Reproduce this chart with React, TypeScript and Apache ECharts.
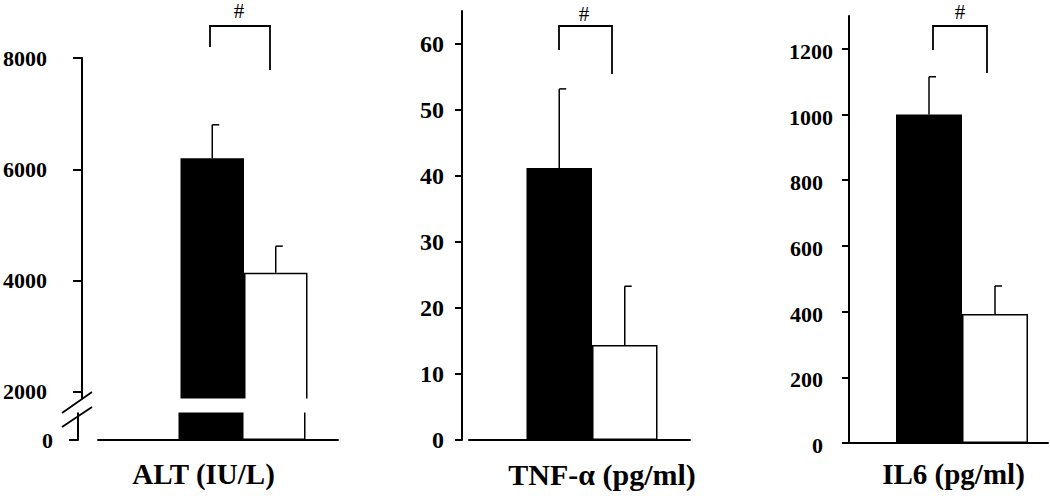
import React, { useEffect, useRef } from 'react';
import * as echarts from 'echarts';

// ---------- data ----------
const panelTitles = ['ALT (IU/L)', 'TNF-α (pg/ml)', 'IL6 (pg/ml)'];
const groupNames = ['Group 1', 'Group 2'];
const altMean = [6200, 4140];
const altUpper = [6800, 4620];
const tnfMean = [41.2, 14.4];
const tnfUpper = [53.2, 23.3];
const il6Mean = [1000, 393];
const il6Upper = [1115, 478];
const altTicksUpper = [2000, 4000, 6000, 8000];
const altTicksLower = [0];
const tnfTicks = [0, 10, 20, 30, 40, 50, 60];
const il6Ticks = [0, 200, 400, 600, 800, 1000, 1200];
const sigMark = '#';

// ---------- layout / style ----------
const FONT = "'Liberation Serif', 'Times New Roman', serif";
const CAP = 7;
const panels = [
  { left: 98, width: 240, barW: 63.5, spacer: 48 },
  { left: 469, width: 221, barW: 65.5, spacer: 25 },
  { left: 849, width: 199, barW: 66, spacer: 27 },
];

function barSeries(p: number, xi: number, mean: number[]) {
  const c = panels[p];
  return [
    {
      type: 'bar', xAxisIndex: xi, yAxisIndex: xi, data: [null], barWidth: c.spacer,
      barGap: '0%', silent: true, itemStyle: { color: 'rgba(0,0,0,0)' },
    },
    {
      type: 'bar', name: groupNames[0], xAxisIndex: xi, yAxisIndex: xi, data: [mean[0]],
      barWidth: c.barW, barGap: '0%', itemStyle: { color: '#000' },
    },
    {
      type: 'bar', name: groupNames[1], xAxisIndex: xi, yAxisIndex: xi, data: [mean[1]],
      barWidth: c.barW, barGap: '0%',
      itemStyle: { color: '#fff', borderColor: '#000', borderWidth: 1.5 },
    },
  ];
}

function errSeries(p: number, xi: number, mean: number[], upper: number[]) {
  const c = panels[p];
  return {
    type: 'custom', xAxisIndex: xi, yAxisIndex: xi, z: 5, clip: false,
    data: mean.map((m, i) => [0, m, upper[i]]),
    renderItem: (params: any, api: any) => {
      const lo = api.coord([api.value(0), api.value(1)]);
      const hi = api.coord([api.value(0), api.value(2)]);
      const off = params.dataIndex === 0 ? c.spacer / 2 - c.barW / 2 : c.spacer / 2 + c.barW / 2;
      const x = lo[0] + off;
      return {
        type: 'group',
        children: [
          { type: 'line', shape: { x1: x, y1: lo[1], x2: x, y2: hi[1] }, style: { stroke: '#000', lineWidth: 1.5 } },
          { type: 'line', shape: { x1: x, y1: hi[1], x2: x + CAP, y2: hi[1] }, style: { stroke: '#000', lineWidth: 1.5 } },
        ],
      };
    },
  };
}

function xAxis(grid: number, p: number, show: boolean) {
  return {
    type: 'category', gridIndex: grid, data: [panelTitles[p]],
    axisLine: { show, onZero: false, lineStyle: { color: '#000', width: 2 } },
    axisTick: { show: false }, axisLabel: { show: false }, splitLine: { show: false },
  };
}

function labelBase(size: number) {
  return { color: '#000', fontFamily: FONT, fontWeight: 'bold', fontSize: size };
}

function yAxis(grid: number, min: number, max: number, ticks: number[], offset: number, tickLen: number, margin: number, size: number, extra: any = {}) {
  return {
    type: 'value', gridIndex: grid, min, max, offset,
    axisLine: { show: true, lineStyle: { color: '#000', width: 2 } },
    axisTick: { show: true, customValues: ticks, length: tickLen, lineStyle: { color: '#000', width: 2 } },
    axisLabel: {
      show: true, customValues: ticks, margin, padding: [5, 0, 0, 0],
      formatter: (v: number) => String(v),
      ...labelBase(size), ...extra,
    },
    splitLine: { show: false },
  };
}

function bracket(x1: number, x2: number, y: number, yl: number, yr: number, hx: number, hy: number) {
  return [
    {
      type: 'polyline', z: 100,
      shape: { points: [[x1, yl], [x1, y], [x2, y], [x2, yr]] },
      style: { stroke: '#000', lineWidth: 1.8, fill: null },
    },
    {
      type: 'text', z: 100, x: hx, y: hy,
      style: {
        text: sigMark, fontFamily: FONT, fontSize: 21, fill: '#000',
        align: 'center', verticalAlign: 'middle', textAlign: 'center', textVerticalAlign: 'middle',
      },
    },
  ];
}

function titleText(text: string, x: number, y: number, size: number) {
  return {
    type: 'text', z: 100, x, y,
    style: {
      text, fontFamily: FONT, fontSize: size, fontWeight: 'bold', fill: '#000',
      align: 'center', verticalAlign: 'middle', textAlign: 'center', textVerticalAlign: 'middle',
    },
  };
}

export default function App() {
  const ref = useRef<HTMLDivElement>(null);
  useEffect(() => {
    if (!ref.current) return;
    const chart = echarts.init(ref.current, undefined, { renderer: 'svg' });
    const option: any = {
      animation: false,
      backgroundColor: '#fff',
      grid: [
        { left: 98, width: 240, top: 58, height: 347.9 },
        { left: 98, width: 240, top: 406.6, height: 33.4 },
        { left: 469, width: 221, top: 11, height: 429 },
        { left: 849, width: 199, top: 16, height: 427 },
      ],
      xAxis: [xAxis(0, 0, false), xAxis(1, 0, true), xAxis(2, 1, true), xAxis(3, 2, true)],
      yAxis: [
        yAxis(0, 1750, 8000, altTicksUpper, 20, 9, 35, 22),
        yAxis(1, 0, 600, altTicksLower, 20, 9, 25, 22),
        yAxis(2, 0, 65, tnfTicks, 7, 7, 18, 24),
        yAxis(3, 0, 1300, il6Ticks, 0, 7, 16, 22, {
          formatter: (v: number) => (v >= 1000 ? `{b|${v}}` : `{a|${v}}`),
          padding: 0,
          rich: {
            a: { ...labelBase(22), padding: [5, 10, 0, 0] },
            b: { ...labelBase(22), padding: [5, 0, 0, 0] },
          },
        }),
      ],
      series: [
        ...barSeries(0, 0, altMean),
        ...barSeries(0, 1, altMean),
        errSeries(0, 0, altMean, altUpper),
        ...barSeries(1, 2, tnfMean),
        errSeries(1, 2, tnfMean, tnfUpper),
        ...barSeries(2, 3, il6Mean),
        errSeries(2, 3, il6Mean, il6Upper),
      ],
      graphic: [
        // axis break cover and slashes
        { type: 'rect', z: 100, shape: { x: 66, y: 398.5, width: 248, height: 14 }, style: { fill: '#fff' } },
        { type: 'line', z: 101, shape: { x1: 62, y1: 413, x2: 92, y2: 392 }, style: { stroke: '#000', lineWidth: 1.8 } },
        { type: 'line', z: 101, shape: { x1: 62, y1: 427, x2: 92, y2: 407 }, style: { stroke: '#000', lineWidth: 1.8 } },
        ...bracket(210, 270, 26, 47, 70, 239, 11),
        ...bracket(559, 612, 26, 50, 74, 584, 14),
        ...bracket(933, 987, 26, 50, 73, 960, 12),
        titleText(panelTitles[0], 203.5, 474, 29),
        titleText(panelTitles[1], 602, 474, 30),
        titleText(panelTitles[2], 953.5, 474, 29),
      ],
    };
    chart.setOption(option);
    return () => chart.dispose();
  }, []);
  return (
    <div
      ref={ref}
      style={{ position: 'absolute', left: 0, top: 0, width: 1050, height: 496, background: '#fff' }}
    />
  );
}
